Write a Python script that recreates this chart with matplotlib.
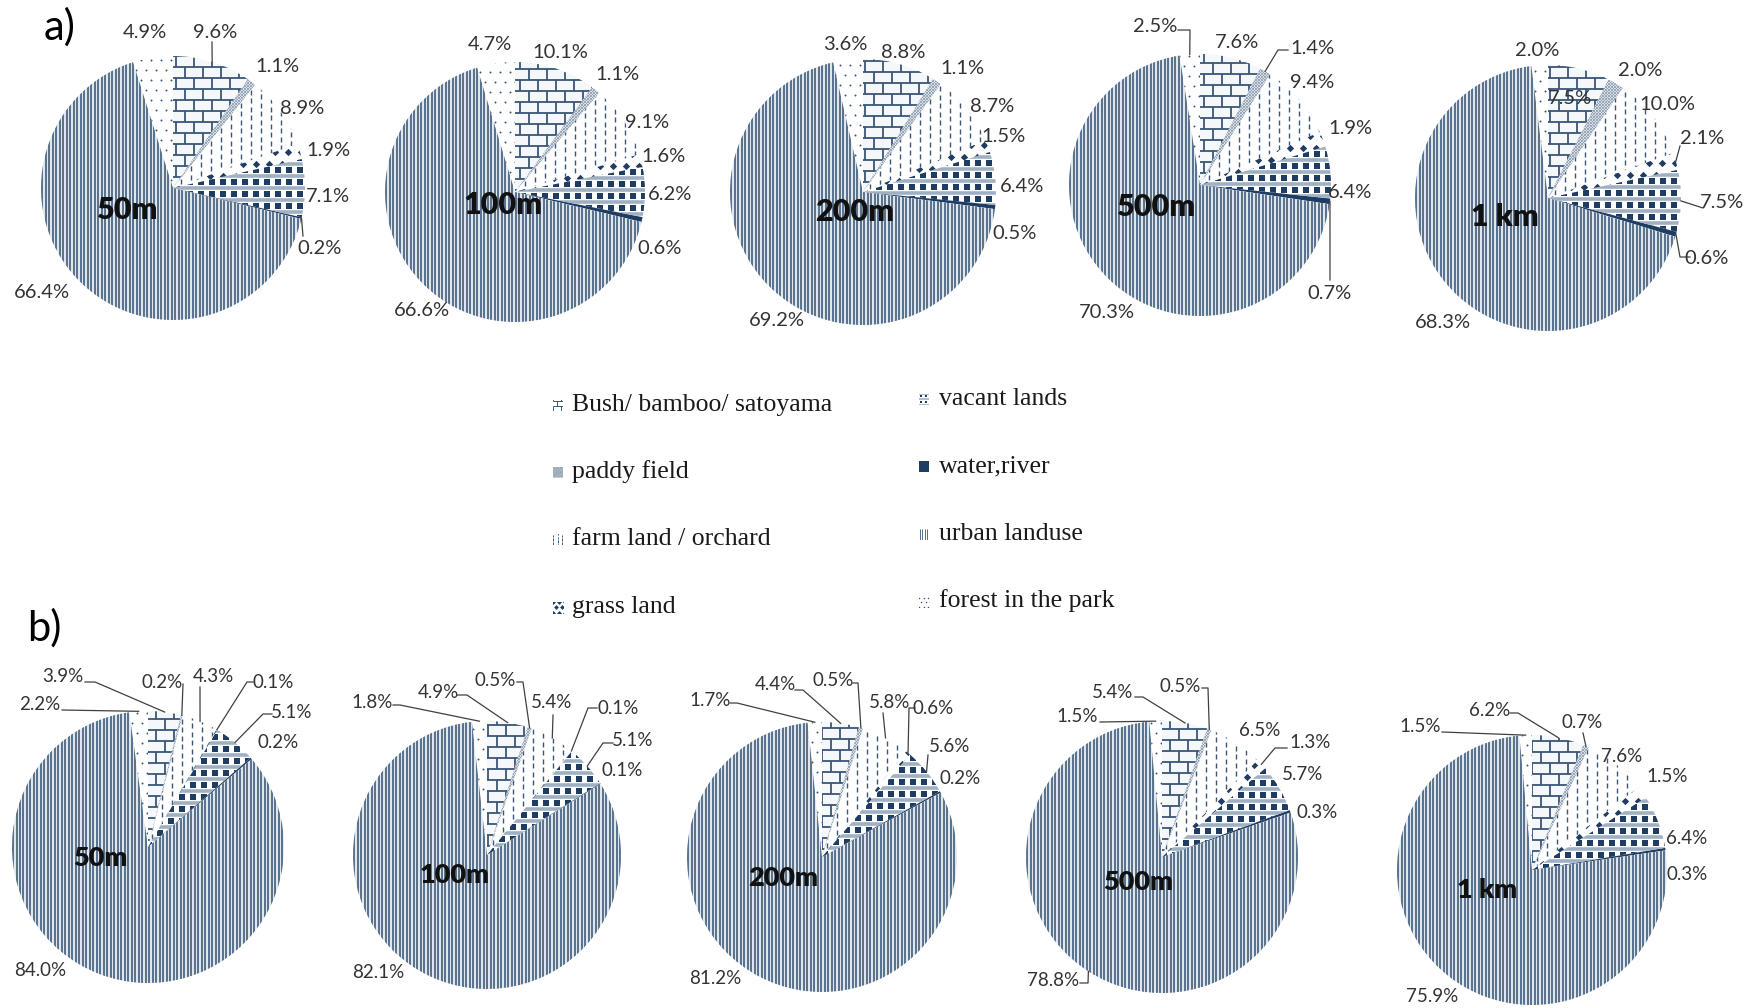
import numpy as np
import matplotlib
matplotlib.use("Agg")
import matplotlib.pyplot as plt
from matplotlib.collections import LineCollection
from matplotlib.lines import Line2D
from matplotlib.patches import Rectangle

W, H, DPI = 1762, 1008, 100

CATEGORIES = ["Bush/ bamboo/ satoyama", "paddy field", "farm land / orchard", "grass land",
              "vacant lands", "water,river", "urban landuse", "forest in the park"]
PATTERNS = ["bush", "paddy", "farm", "grass", "vacant", "water", "urban", "forest"]
BUFFERS = ["50m", "100m", "200m", "500m", "1 km"]

# land-use share (%) inside each buffer, slices in CATEGORIES order
SHARE_A = [
    [9.6, 1.1, 8.9, 1.9, 7.1, 0.2, 66.4, 4.9],
    [10.1, 1.1, 9.1, 1.6, 6.2, 0.6, 66.6, 4.7],
    [8.8, 1.1, 8.7, 1.5, 6.4, 0.5, 69.2, 3.6],
    [7.6, 1.4, 9.4, 1.9, 6.4, 0.7, 70.3, 2.5],
    [7.5, 2.0, 10.0, 2.1, 7.5, 0.6, 68.3, 2.0],
]
SHARE_B = [
    [3.9, 0.2, 4.3, 0.1, 5.1, 0.2, 84.0, 2.2],
    [4.9, 0.5, 5.4, 0.1, 5.1, 0.1, 82.1, 1.8],
    [4.4, 0.5, 5.8, 0.6, 5.6, 0.2, 81.2, 1.7],
    [5.4, 0.5, 6.5, 1.3, 5.7, 0.3, 78.8, 1.5],
    [6.2, 0.7, 7.6, 1.5, 6.4, 0.3, 75.9, 1.5],
]

# ---- layout (pixels, origin top-left) ----
PIE_A = [(173, 188, 132), (515, 192, 130), (863, 192, 133), (1200, 185, 131), (1548, 198, 133)]
PIE_B = [(148, 847, 136), (487, 855, 134), (822, 857, 135), (1162, 857, 136), (1532, 870, 135)]

LABEL_A = [
    [(215, 32), (277, 67), (302, 108), (328, 150), (328, 197), (320, 248), (42, 292), (145, 33)],
    [(560, 52), (617, 75), (647, 122), (663, 157), (670, 195), (660, 248), (422, 310), (490, 45)],
    [(903, 52), (962, 68), (992, 107), (1003, 137), (1022, 187), (1015, 233), (777, 320), (845, 45)],
    [(1237, 43), (1312, 48), (1312, 82), (1350, 128), (1350, 193), (1330, 293), (1107, 313), (1155, 27)],
    [(1570, 98), (1640, 70), (1667, 105), (1702, 138), (1722, 202), (1707, 258), (1443, 322), (1537, 50)],
]
LABEL_B = [
    [(63, 677), (162, 683), (213, 677), (273, 682), (292, 712), (278, 742), (40, 970), (40, 705)],
    [(438, 693), (495, 680), (552, 702), (618, 708), (633, 740), (622, 770), (378, 972), (372, 703)],
    [(775, 685), (833, 680), (890, 702), (933, 708), (950, 747), (960, 778), (715, 978), (710, 700)],
    [(1113, 693), (1180, 687), (1260, 730), (1310, 743), (1303, 775), (1317, 813), (1053, 980), (1077, 717)],
    [(1490, 710), (1582, 722), (1622, 757), (1667, 777), (1687, 838), (1687, 875), (1432, 997), (1420, 727)],
]
NAME_A = [(128, 210), (503, 205), (855, 212), (1157, 207), (1505, 217)]
NAME_B = [(100, 858), (455, 875), (783, 878), (1138, 882), (1487, 890)]

# leader lines: (pie, slice) -> label-side points; the wedge end is added from the data
LEADERS_A = {
    (0, 0): [(212, 42)], (0, 5): [(303, 236)],
    (3, 7): [(1178, 30), (1190, 30)], (3, 1): [(1288, 50), (1278, 50)], (3, 5): [(1330, 280)],
    (4, 3): [(1680, 146)], (4, 4): [(1703, 208)], (4, 5): [(1690, 257), (1680, 257)],
}
LEADERS_B = {
    (0, 0): [(85, 682), (95, 682)], (0, 7): [(62, 710)], (0, 1): [(183, 684)],
    (0, 2): [(200, 687)], (0, 3): [(253, 682), (247, 682)], (0, 4): [(272, 714), (263, 714)],
    (1, 7): [(393, 705), (400, 705)], (1, 0): [(457, 695), (467, 695)], (1, 1): [(517, 682), (523, 682)],
    (1, 2): [(553, 715)], (1, 3): [(597, 708), (588, 708)], (1, 4): [(613, 743), (603, 743)],
    (2, 7): [(730, 703), (737, 703)], (2, 0): [(795, 690), (803, 690)], (2, 1): [(853, 683), (858, 683)],
    (2, 2): [(883, 713)], (2, 3): [(915, 708), (909, 708)], (2, 4): [(928, 755)],
    (3, 0): [(1135, 697), (1143, 697)], (3, 1): [(1202, 688), (1208, 688)],
    (3, 3): [(1287, 748), (1275, 748)], (3, 7): [(1100, 722)], (3, 6): [(1080, 983), (1088, 983)],
    (4, 0): [(1510, 713), (1518, 713)], (4, 1): [(1583, 733)], (4, 7): [(1442, 732)],
}

LEGEND_ROWS = [(558, 572, 405), (558, 572, 472), (558, 572, 539), (558, 572, 607),
               (924, 939, 399), (924, 939, 466), (924, 939, 534), (924, 939, 601)]

NAVY = "#3b5675"
DARK = "#1f3c62"
GREY = "#8a9cb0"
TEXT = "#333333"
LABEL_FONT = ["Lato", "DejaVu Sans"]

FACE = {"bush": "#f4f8fb", "paddy": "white", "farm": "white", "grass": "white",
        "vacant": "white", "water": DARK, "urban": "#dfe7ee", "forest": "white"}


def fx(x):
    return x / W


def fy(y):
    return 1 - y / H


def add_lines(ax, segs, clip, color, lw):
    lc = LineCollection(segs, colors=color, linewidths=lw, zorder=2, capstyle="butt")
    ax.add_collection(lc, autolim=False)
    lc.set_clip_path(clip)


def add_marks(ax, x, y, clip, marker, size, color):
    sc = ax.scatter(x, y, s=size, marker=marker, c=color, linewidths=0, zorder=3)
    sc.set_clip_path(clip)


def grid(x0, x1, y0, y1, dx, dy, stagger=0.0):
    xs, ys = [], []
    for k, y in enumerate(np.arange(y0, y1 + dy, dy)):
        for x in np.arange(x0 - (k % 2) * stagger, x1 + dx, dx):
            xs.append(x)
            ys.append(y)
    return np.array(xs), np.array(ys)


def fill_pattern(ax, kind, clip, x0, x1, y0, y1, s=1.0):
    """Draw a textured fill clipped to a patch, spacing given in pixels."""
    small = s < 1
    if kind == "bush":
        h, w = 11 * s, 18 * s
        ys = np.arange(y0, y1 + h, h)
        segs = [[(x0, y), (x1, y)] for y in ys]
        for k, y in enumerate(ys):
            for x in np.arange(x0 - (k % 2) * w / 2, x1 + w, w):
                segs.append([(x, y), (x, y + h)])
        add_lines(ax, segs, clip, NAVY, 0.7 if small else 1.3)
    elif kind == "paddy":
        st = 3 * s
        d = y1 - y0
        xs = np.arange(x0 - d, x1 + st, st)
        segs = [[(x, y0), (x + d, y1)] for x in xs] + [[(x, y1), (x + d, y0)] for x in xs]
        add_lines(ax, segs, clip, GREY, 0.4 if small else 0.6)
    elif kind == "farm":
        dx, period, dash = 10 * s, 8.5 * s, 5 * s
        segs = []
        for j, x in enumerate(np.arange(x0, x1 + dx, dx)):
            for y in np.arange(y0 - (j % 2) * period / 2, y1 + period, period):
                segs.append([(x, y), (x, y + dash)])
        add_lines(ax, segs, clip, NAVY, 0.7 if small else 1.0)
    elif kind == "grass":
        xs, ys = grid(x0, x1, y0, y1, 13 * s, 12 * s, 6.5 * s)
        add_marks(ax, xs, ys, clip, "D", 6 if small else 14, DARK)
    elif kind == "vacant":
        dx, dy = 11 * s, 12 * s
        segs = [[(x0, y), (x1, y)] for y in np.arange(y0, y1 + dy, dy)]
        add_lines(ax, segs, clip, "#9fb0c3", 2.6 * s)
        xs, ys = grid(x0 + dx / 2, x1, y0 + dy / 2, y1, dx, dy)
        add_marks(ax, xs, ys, clip, "s", 4 if small else 13, DARK)
    elif kind == "urban":
        st = 2.4 if small else 3.5
        segs = [[(x, y0), (x, y1)] for x in np.arange(x0 + 1, x1, st)]
        add_lines(ax, segs, clip, NAVY, 0.6 if small else 1.15)
    elif kind == "forest":
        xs, ys = grid(x0, x1, y0, y1, 10 * s, 10 * s, 5 * s)
        add_marks(ax, xs, ys, clip, "o", 1.2 if small else 2.0, NAVY)


def draw_pie(fig, values, geom, labels, name_xy, name, leaders, pie_idx, label_size, name_size):
    cx, cy, r = geom
    pad = 3
    ax = fig.add_axes([fx(cx - r - pad), fy(cy + r + pad), 2 * (r + pad) / W, 2 * (r + pad) / H])
    wedges, _ = ax.pie(values, radius=r, startangle=90, counterclock=False,
                       wedgeprops=dict(linewidth=0))
    for wedge, kind in zip(wedges, PATTERNS):
        wedge.set_facecolor(FACE[kind])
        wedge.set_zorder(1)
        if kind != "water":
            fill_pattern(ax, kind, wedge, -r, r, -r, r)
    ax.set_xlim(-r - pad, r + pad)
    ax.set_ylim(-r - pad, r + pad)
    ax.set_aspect("auto")
    ax.axis("off")

    total = float(sum(values))
    bounds = np.concatenate([[0], np.cumsum(values)]) / total
    for i, (v, (lx, ly)) in enumerate(zip(values, labels)):
        fig.text(fx(lx), fy(ly), f"{v:.1f}%", ha="center", va="center",
                 fontsize=label_size, color=TEXT, family=LABEL_FONT)
        if (pie_idx, i) in leaders:
            ang = np.deg2rad(90 - 360 * (bounds[i] + bounds[i + 1]) / 2)
            pts = leaders[(pie_idx, i)] + [(cx + r * np.cos(ang), cy - r * np.sin(ang))]
            xs = [fx(p[0]) for p in pts]
            ys = [fy(p[1]) for p in pts]
            fig.add_artist(Line2D(xs, ys, color="#404040", lw=0.9, transform=fig.transFigure))

    fig.text(fx(name_xy[0]), fy(name_xy[1]), name, ha="center", va="center",
             fontsize=name_size, fontweight="heavy", color="#111111", family=LABEL_FONT)


def draw_legend(fig):
    sw, sh = 10, 11
    for (sx, tx, y), label, kind in zip(LEGEND_ROWS, CATEGORIES, PATTERNS):
        ax = fig.add_axes([fx(sx - sw / 2), fy(y + sh / 2), sw / W, sh / H])
        box = Rectangle((0, 0), sw, sh, facecolor="white" if kind != "water" else DARK,
                        linewidth=0, zorder=1)
        ax.add_patch(box)
        if kind != "water":
            fill_pattern(ax, kind, box, 0, sw, 0, sh, s=0.45)
        ax.set_xlim(0, sw)
        ax.set_ylim(0, sh)
        ax.axis("off")
        fig.text(fx(tx), fy(y), label, ha="left", va="center", fontsize=18.5,
                 color="#1a1a1a", family=["Liberation Serif", "DejaVu Serif"])


def main():
    fig = plt.figure(figsize=(W / DPI, H / DPI), dpi=DPI)
    fig.patch.set_facecolor("white")

    for k in range(5):
        draw_pie(fig, SHARE_A[k], PIE_A[k], LABEL_A[k], NAME_A[k], BUFFERS[k], LEADERS_A, k, 14.5, 22)
        draw_pie(fig, SHARE_B[k], PIE_B[k], LABEL_B[k], NAME_B[k], BUFFERS[k], LEADERS_B, k, 13.5, 19.5)

    draw_legend(fig)

    fig.text(fx(60), fy(27), "a)", ha="center", va="center", fontsize=30, family=LABEL_FONT)
    fig.text(fx(44), fy(628), "b)", ha="center", va="center", fontsize=30, family=LABEL_FONT)

    fig.savefig("out.png", dpi=DPI, facecolor="white")
    plt.close(fig)


if __name__ == "__main__":
    main()
